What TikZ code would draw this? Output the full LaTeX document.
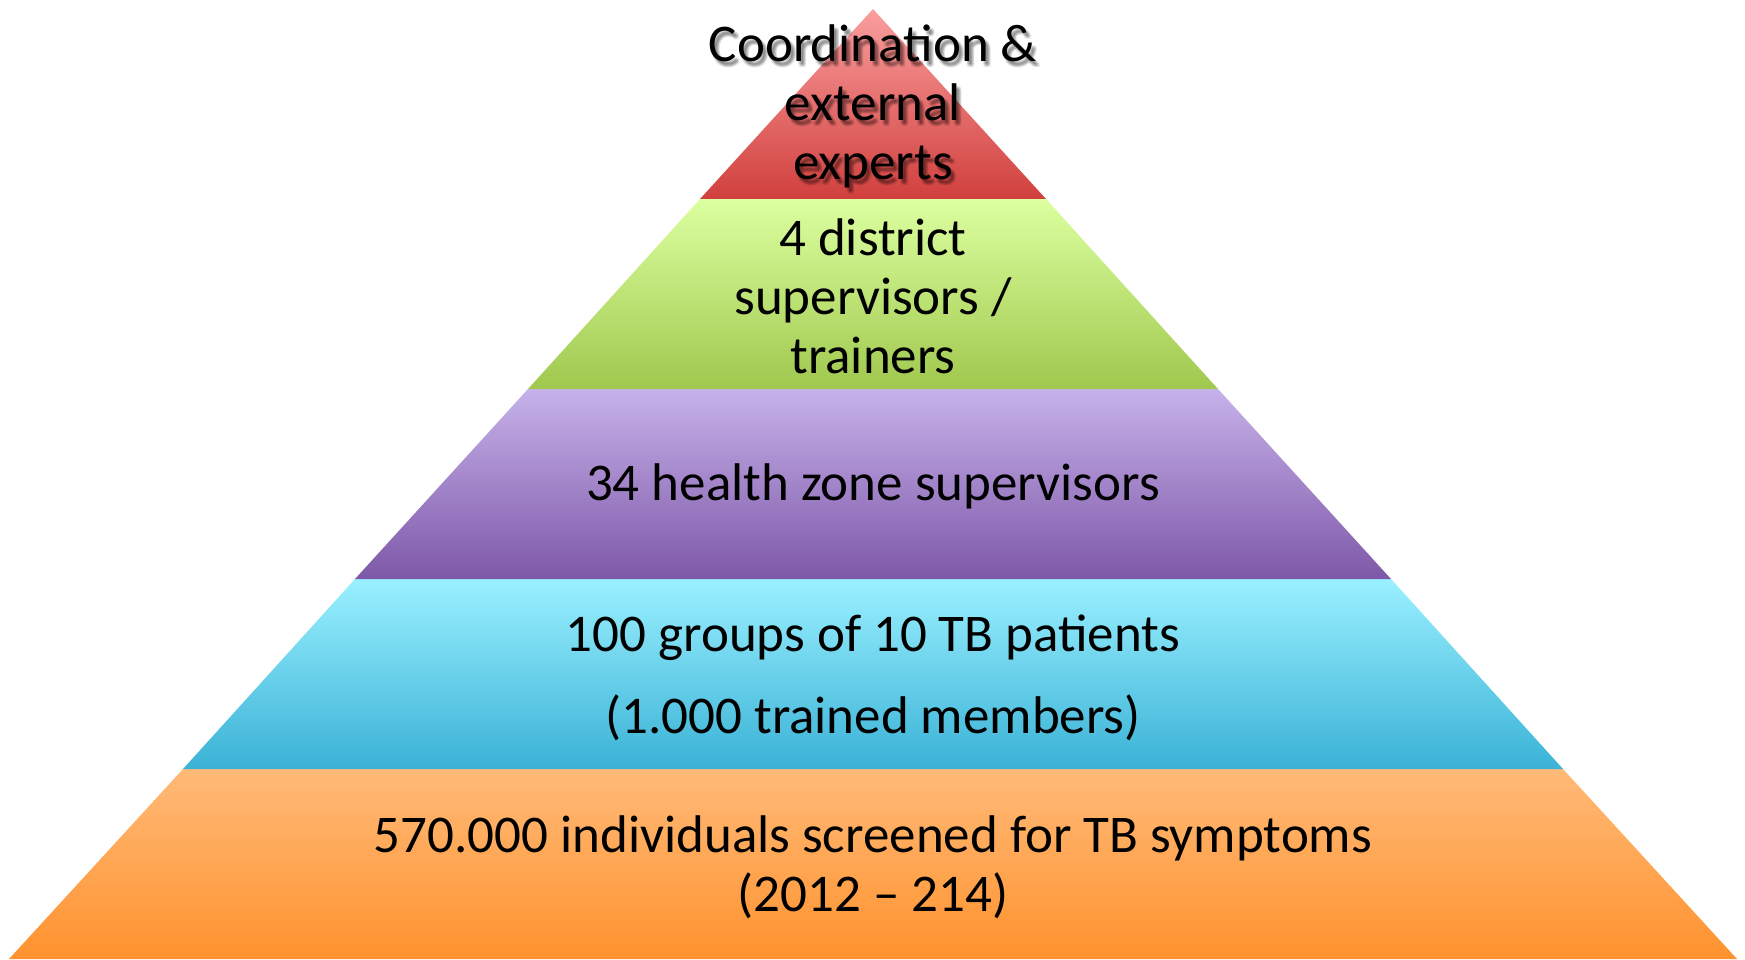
\documentclass[tikz,border=0pt]{standalone}
\usepackage{fontspec}
\setmainfont{Carlito}
\usepackage{tikz}

\definecolor{redtop}{HTML}{FA9E9E}
\definecolor{redbot}{HTML}{D0403D}
\definecolor{greentop}{HTML}{DCFFA0}
\definecolor{greenbot}{HTML}{A0C84E}
\definecolor{purpletop}{HTML}{C6B2EA}
\definecolor{purplebot}{HTML}{7E58A8}
\definecolor{cyantop}{HTML}{9AF0FF}
\definecolor{cyanbot}{HTML}{3AB2D6}
\definecolor{orangetop}{HTML}{FFBA78}
\definecolor{orangebot}{HTML}{FF922E}

\begin{document}
\begin{tikzpicture}[x=1pt,y=-1pt,
  ltext/.style={align=center,inner sep=0pt,font=\fontsize{53}{59}\selectfont},
  tshadow/.style={ltext,text=black,opacity=0.07}
]
\useasboundingbox (0,0) rectangle (1745,960);
% layers, bottom to top
\shade[top color=orangetop,bottom color=orangebot] (183,769) -- (1563,769) -- (1737,959) -- (9,959) -- cycle;
\shade[top color=cyantop,bottom color=cyanbot] (355,579) -- (1391,579) -- (1563,769) -- (183,769) -- cycle;
\shade[top color=purpletop,bottom color=purplebot] (528,389) -- (1218,389) -- (1391,579) -- (355,579) -- cycle;
\shade[top color=greentop,bottom color=greenbot] (700,199) -- (1046,199) -- (1218,389) -- (528,389) -- cycle;
\shade[top color=redtop,bottom color=redbot] (873,9) -- (1046,199) -- (700,199) -- cycle;
% soft shadow of the top text
\foreach \dx/\dy in {2/3,3/4,4/5,3/6,5/4,4/3,2/5,5/6}
  \node[tshadow] at (873+\dx,106+\dy) {Coordination \&\\external\\experts};
% texts
\node[ltext] (top) at (873,106) {Coordination \&\\external\\experts};
\node[ltext] (dist) at (873,296) {4 district\\supervisors /\\trainers};
\node[ltext] (zone) at (873,486) {34 health zone supervisors};
\node[ltext] (grp) at (873,678) {100 groups of 10 TB patients\\[23pt](1.000 trained members)};
\node[ltext] (scr) at (873,867) {570.000 individuals screened for TB symptoms\\(2012 – 214)};
\end{tikzpicture}
\end{document}
